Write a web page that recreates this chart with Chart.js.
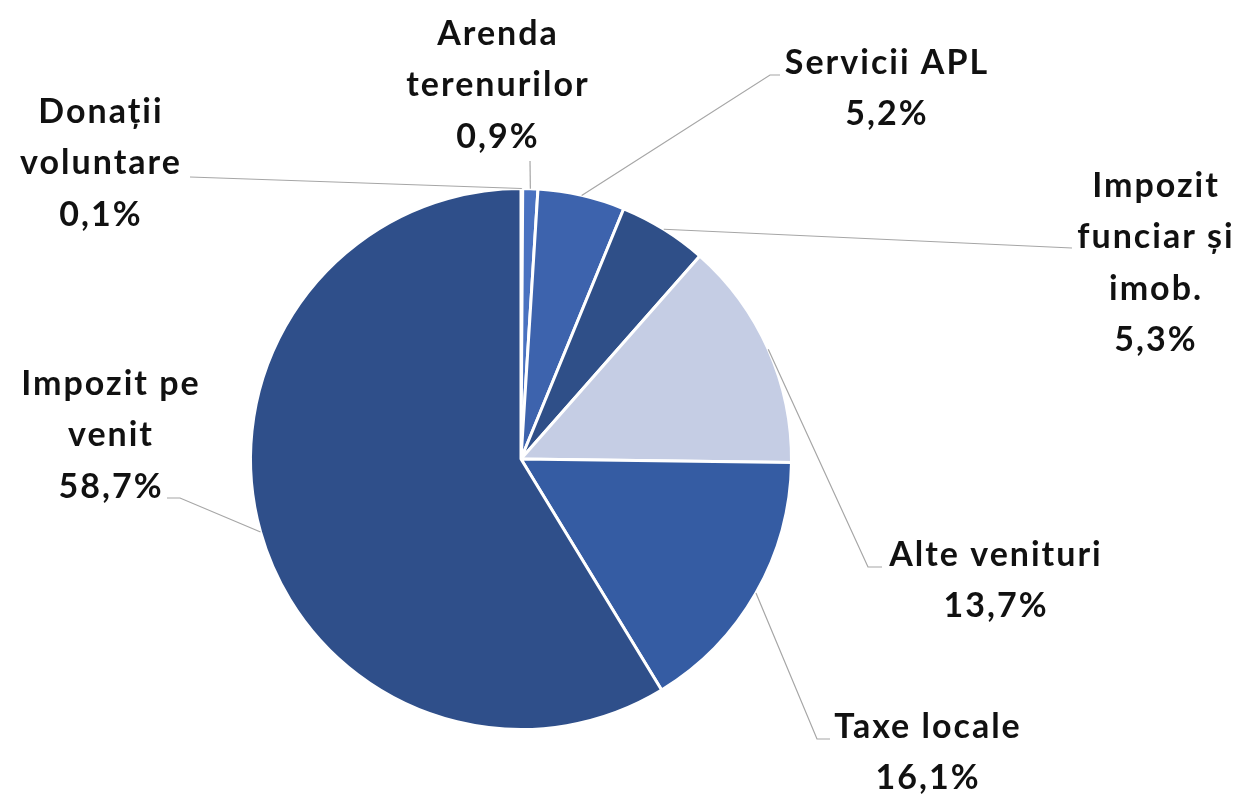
<!DOCTYPE html>
<html>
<head>
<meta charset="utf-8">
<script src="https://cdn.jsdelivr.net/npm/chart.js@4/dist/chart.umd.min.js"></script>
<style>
html,body{margin:0;padding:0;background:#fff;}
canvas{display:block;}
</style>
</head>
<body>
<canvas id="c" width="1237" height="794"></canvas>
<script>
const categories = ["Donații voluntare","Arenda terenurilor","Servicii APL","Impozit funciar și imob.","Alte venituri","Taxe locale","Impozit pe venit"];
const labelLines = [["Donații","voluntare"],["Arenda","terenurilor"],["Servicii APL"],["Impozit","funciar și","imob."],["Alte venituri"],["Taxe locale"],["Impozit pe","venit"]];
const shares = [0.1, 0.9, 5.2, 5.3, 13.7, 16.1, 58.7];
const colors = ["#4472c4","#4a72c0","#3d63ad","#2f4f88","#c5cde4","#355ca3","#2f4f8a"];

// label placement (text block centre x, first line centre y, leader elbow, horizontal tail end)
const labelLayout = [
  {x:100, y:112, elbow:[190,177], tail:null},
  {x:497, y:34,  elbow:[530,161], tail:null},
  {x:886, y:63,  elbow:[770,75],  tail:780},
  {x:1155,y:186, elbow:[1072,248],tail:null},
  {x:995, y:555, elbow:[868,567], tail:882},
  {x:927, y:727, elbow:[817,739], tail:830},
  {x:110, y:384, elbow:[180,498], tail:167}
];

const labelPlugin = {
  id:'pieLabels',
  afterDraw(chart){
    const ctx = chart.ctx;
    const arcs = chart.getDatasetMeta(0).data;
    ctx.save();
    arcs.forEach((arc,i)=>{
      const L = labelLayout[i];
      const mid = (arc.startAngle + arc.endAngle)/2;
      const px = arc.x + Math.cos(mid)*arc.outerRadius;
      const py = arc.y + Math.sin(mid)*arc.outerRadius;
      ctx.strokeStyle = "#a6a6a6";
      ctx.lineWidth = 1.2;
      ctx.beginPath();
      ctx.moveTo(px,py);
      ctx.lineTo(L.elbow[0],L.elbow[1]);
      if(L.tail!==null) ctx.lineTo(L.tail,L.elbow[1]);
      ctx.stroke();
      const lines = labelLines[i].concat([shares[i].toFixed(1).replace('.',',')+'%']);
      ctx.fillStyle = "#111";
      ctx.font = "bold 34px Lato, 'Open Sans', sans-serif";
      if ('letterSpacing' in ctx) ctx.letterSpacing = "2px";
      ctx.textAlign = "center";
      ctx.textBaseline = "middle";
      lines.forEach((t,k)=>{ ctx.fillText(t, L.x + 1, L.y + k*51.5); });
    });
    ctx.restore();
  }
};

new Chart(document.getElementById('c'), {
  type:'pie',
  data:{
    labels: categories,
    datasets:[{
      data: shares,
      backgroundColor: colors,
      borderColor: "#ffffff",
      borderWidth: 3
    }]
  },
  options:{
    responsive:false,
    animation:false,
    layout:{padding:{left:249,right:444,top:187,bottom:63}},
    plugins:{legend:{display:false},tooltip:{enabled:false}}
  },
  plugins:[labelPlugin]
});
</script>
</body>
</html>
